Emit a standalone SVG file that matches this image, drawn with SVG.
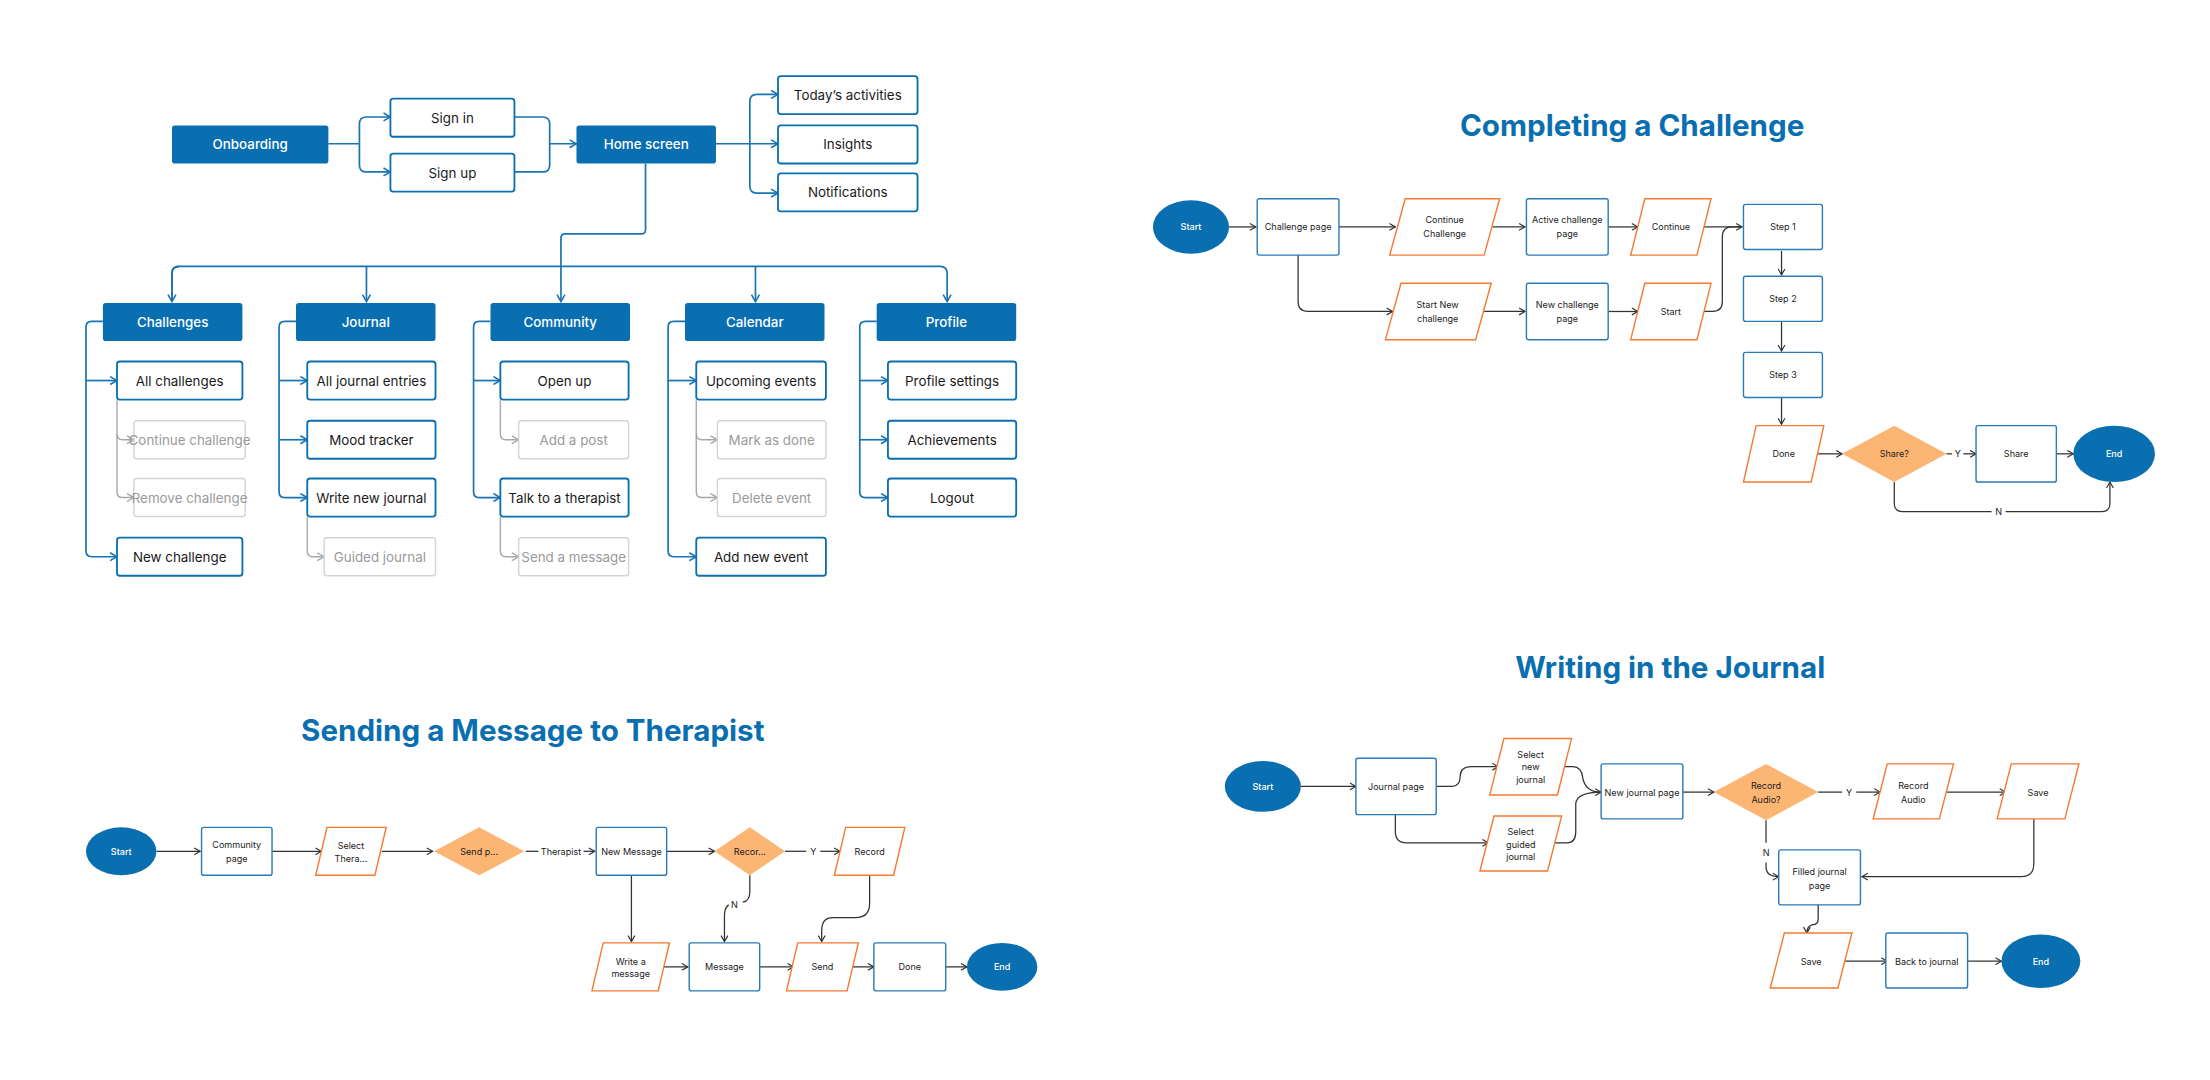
<svg xmlns="http://www.w3.org/2000/svg" width="2210" height="1080" viewBox="0 0 2210 1080">
<defs>
<style>
.t{font-family:Inter,"Noto Sans",sans-serif;fill:#1a1a1a;text-anchor:middle;dominant-baseline:central}
.tt{font-size:9.5px}
.tw{fill:#fff;font-weight:500}
.tg{fill:#9a9a9a}
.ft{font-size:6.4px}
.title{font-family:Inter,"Noto Sans",sans-serif;font-weight:700;font-size:21px;fill:#0a6fb0;text-anchor:middle;dominant-baseline:central}
.cat{fill:#0a6fb0}
.box{fill:#fff;stroke:#0a6fb0;stroke-width:1.3}
.gbox{fill:#fff;stroke:#d4d4d4;stroke-width:1}
.fbox{fill:#fff;stroke:#2a7ab8;stroke-width:1}
.par{fill:#fff;stroke:#f47a30;stroke-width:1}
.dia{fill:#fdb574}
.ell{fill:#0a6fb0}
.lb{fill:none;stroke:#1a73b3;stroke-width:1.2}
.lg{fill:none;stroke:#a8a8a8;stroke-width:1}
.lk{fill:none;stroke:#333;stroke-width:0.9}
</style>
<marker id="ab" viewBox="0 0 10 10" refX="9" refY="5" markerWidth="7" markerHeight="7" markerUnits="userSpaceOnUse" orient="auto"><path d="M2,1 L9,5 L2,9" fill="none" stroke="#1a73b3" stroke-width="1.6"/></marker>
<marker id="ag" viewBox="0 0 10 10" refX="9" refY="5" markerWidth="7" markerHeight="7" markerUnits="userSpaceOnUse" orient="auto"><path d="M2,1 L9,5 L2,9" fill="none" stroke="#a8a8a8" stroke-width="1.4"/></marker>
<marker id="ak" viewBox="0 0 10 10" refX="9" refY="5" markerWidth="6" markerHeight="6" markerUnits="userSpaceOnUse" orient="auto"><path d="M2,1 L9,5 L2,9" fill="none" stroke="#333" stroke-width="1.4"/></marker>
</defs>
<rect width="2210" height="1080" fill="#fff"/>
<g transform="scale(1.40944)">
<g id="connectors">
<!-- tree -->
<path class="lb" d="M233,102 H255 M255,102 V88 Q255,83 260,83 H277" marker-end="url(#ab)"/>
<path class="lb" d="M255,102 V117 Q255,122 260,122 H277" marker-end="url(#ab)"/>
<path class="lb" d="M365,83 H385 Q390,83 390,88 V102 H409" marker-end="url(#ab)"/>
<path class="lb" d="M365,122 H385 Q390,122 390,117 V102"/>
<path class="lb" d="M508,102 H552" marker-end="url(#ab)"/>
<path class="lb" d="M532,102 V72 Q532,67 537,67 H552" marker-end="url(#ab)"/>
<path class="lb" d="M532,102 V132 Q532,137 537,137 H552" marker-end="url(#ab)"/>
<path class="lb" d="M458,116 V163 Q458,166 455,166 H401 Q398,166 398,169 V189"/>
<path class="lb" d="M122,214 V194 Q122,189 127,189 H667 Q672,189 672,194 V214" marker-end="url(#ab)"/>
<path class="lb" d="M127,189 Q122,189 122,194 V214" marker-end="url(#ab)"/>
<path class="lb" d="M260,189 V214" marker-end="url(#ab)"/>
<path class="lb" d="M398,189 V214" marker-end="url(#ab)"/>
<path class="lb" d="M536,189 V214" marker-end="url(#ab)"/>
<!-- Challenges -->
<path class="lb" d="M73,228 H65 Q61,228 61,232 V391 Q61,395 65,395 H83" marker-end="url(#ab)"/>
<path class="lb" d="M61,270 H83" marker-end="url(#ab)"/>
<path class="lg" d="M83,284 V308 Q83,312 87,312 H95" marker-end="url(#ag)"/>
<path class="lg" d="M83,308 V349 Q83,353 87,353 H95" marker-end="url(#ag)"/>
<!-- Journal -->
<path class="lb" d="M210,228 H202 Q198,228 198,232 V349 Q198,353 202,353 H218" marker-end="url(#ab)"/>
<path class="lb" d="M198,270 H218" marker-end="url(#ab)"/>
<path class="lb" d="M198,312 H218" marker-end="url(#ab)"/>
<path class="lg" d="M218,367 V391 Q218,395 222,395 H230" marker-end="url(#ag)"/>
<!-- Community -->
<path class="lb" d="M348,228 H340 Q336,228 336,232 V349 Q336,353 340,353 H355" marker-end="url(#ab)"/>
<path class="lb" d="M336,270 H355" marker-end="url(#ab)"/>
<path class="lg" d="M355,284 V308 Q355,312 359,312 H368" marker-end="url(#ag)"/>
<path class="lg" d="M355,367 V391 Q355,395 359,395 H368" marker-end="url(#ag)"/>
<!-- Calendar -->
<path class="lb" d="M486,228 H478 Q474,228 474,232 V391 Q474,395 478,395 H494" marker-end="url(#ab)"/>
<path class="lb" d="M474,270 H494" marker-end="url(#ab)"/>
<path class="lg" d="M494,284 V308 Q494,312 498,312 H509" marker-end="url(#ag)"/>
<path class="lg" d="M494,308 V349 Q494,353 498,353 H509" marker-end="url(#ag)"/>
<!-- Profile -->
<path class="lb" d="M622,228 H614 Q610,228 610,232 V349 Q610,353 614,353 H630" marker-end="url(#ab)"/>
<path class="lb" d="M610,270 H630" marker-end="url(#ab)"/>
<path class="lb" d="M610,312 H630" marker-end="url(#ab)"/>
<!-- challenge flow -->
<path class="lk" d="M872,161 H891" marker-end="url(#ak)"/>
<path class="lk" d="M950,161 H990" marker-end="url(#ak)"/>
<path class="lk" d="M1059,161 H1082" marker-end="url(#ak)"/>
<path class="lk" d="M1141,161 H1162" marker-end="url(#ak)"/>
<path class="lk" d="M1209,161 H1236" marker-end="url(#ak)"/>
<path class="lk" d="M921,181 V214 Q921,221 928,221 H988" marker-end="url(#ak)"/>
<path class="lk" d="M1053,221 H1082" marker-end="url(#ak)"/>
<path class="lk" d="M1141,221 H1162" marker-end="url(#ak)"/>
<path class="lk" d="M1209,221 H1215 Q1222,221 1222,214 V168 Q1222,161 1229,161 H1236"/>
<path class="lk" d="M1264,178 V195" marker-end="url(#ak)"/>
<path class="lk" d="M1264,228 V249" marker-end="url(#ak)"/>
<path class="lk" d="M1264,282 V301" marker-end="url(#ak)"/>
<path class="lk" d="M1289,322 H1307" marker-end="url(#ak)"/>
<path class="lk" d="M1381,322 H1385"/>
<path class="lk" d="M1393,322 H1402" marker-end="url(#ak)"/>
<path class="lk" d="M1459,322 H1471" marker-end="url(#ak)"/>
<path class="lk" d="M1344,342 V357 Q1344,363 1350,363 H1413"/>
<path class="lk" d="M1423,363 H1491 Q1497,363 1497,357 V342" marker-end="url(#ak)"/>
<!-- message flow -->
<path class="lk" d="M111,604 H142" marker-end="url(#ak)"/>
<path class="lk" d="M193,604 H228" marker-end="url(#ak)"/>
<path class="lk" d="M271,604 H307" marker-end="url(#ak)"/>
<path class="lk" d="M373,604 H382"/>
<path class="lk" d="M414,604 H422" marker-end="url(#ak)"/>
<path class="lk" d="M473,604 H507" marker-end="url(#ak)"/>
<path class="lk" d="M557,604 H572"/>
<path class="lk" d="M582,604 H596" marker-end="url(#ak)"/>
<path class="lk" d="M448,621 V668" marker-end="url(#ak)"/>
<path class="lk" d="M532,621 V633 Q532,639 527,640"/>
<path class="lk" d="M517,642 Q514,644 514,650 V668" marker-end="url(#ak)"/>
<path class="lk" d="M617,621 V641 Q617,651 607,651 H591 Q583,651 583,660 V668" marker-end="url(#ak)"/>
<path class="lk" d="M470,686 H488" marker-end="url(#ak)"/>
<path class="lk" d="M539,686 H563" marker-end="url(#ak)"/>
<path class="lk" d="M605,686 H620" marker-end="url(#ak)"/>
<path class="lk" d="M671,686 H686" marker-end="url(#ak)"/>
<!-- journal flow -->
<path class="lk" d="M923,558 H962" marker-end="url(#ak)"/>
<path class="lk" d="M1019,558 H1030 Q1036,558 1036,551 Q1036,544 1044,544 H1063" marker-end="url(#ak)"/>
<path class="lk" d="M990,578 V590 Q990,598 998,598 H1056" marker-end="url(#ak)"/>
<path class="lk" d="M1110,544 H1116 Q1122,544 1123,552 Q1125,562 1136,562" marker-end="url(#ak)"/>
<path class="lk" d="M1103,598 H1112 Q1118,598 1118,590 V570 Q1119,562 1136,562"/>
<path class="lk" d="M1194,562 H1216" marker-end="url(#ak)"/>
<path class="lk" d="M1290,562 H1307"/>
<path class="lk" d="M1317,562 H1334" marker-end="url(#ak)"/>
<path class="lk" d="M1381,562 H1423" marker-end="url(#ak)"/>
<path class="lk" d="M1443,581 V613 Q1443,622 1434,622 H1321" marker-end="url(#ak)"/>
<path class="lk" d="M1253,582 V598"/>
<path class="lk" d="M1253,612 V615 Q1253,622 1262,622" marker-end="url(#ak)"/>
<path class="lk" d="M1290,642 V652 Q1290,656 1286,656 Q1282,657 1282,662" marker-end="url(#ak)"/>
<path class="lk" d="M1309,682 H1339" marker-end="url(#ak)"/>
<path class="lk" d="M1396,682 H1420" marker-end="url(#ak)"/>
</g>
<g id="labels">
<text class="t ft" x="1389" y="322">Y</text>
<text class="t ft" x="1418" y="363">N</text>
<text class="t ft" x="398" y="604">Therapist</text>
<text class="t ft" x="577" y="604">Y</text>
<text class="t ft" x="521" y="642">N</text>
<text class="t ft" x="1312" y="562">Y</text>
<text class="t ft" x="1253" y="605">N</text>
</g>
<!-- tree nodes -->
<g id="onboarding"><rect class="cat" x="122" y="89" width="111" height="27" rx="2"/><text class="t tt tw" x="177.5" y="102.5">Onboarding</text></g>
<g id="signin"><rect class="box" x="277" y="70" width="88" height="27" rx="2"/><text class="t tt" x="321" y="83.5">Sign in</text></g>
<g id="signup"><rect class="box" x="277" y="109" width="88" height="27" rx="2"/><text class="t tt" x="321" y="122.5">Sign up</text></g>
<g id="home"><rect class="cat" x="409" y="89" width="99" height="27" rx="2"/><text class="t tt tw" x="458.5" y="102.5">Home screen</text></g>
<g id="today"><rect class="box" x="552" y="54" width="99" height="27" rx="2"/><text class="t tt" x="601.5" y="67.5">Today’s activities</text></g>
<g id="insights"><rect class="box" x="552" y="89" width="99" height="27" rx="2"/><text class="t tt" x="601.5" y="102.5">Insights</text></g>
<g id="notifications"><rect class="box" x="552" y="123" width="99" height="27" rx="2"/><text class="t tt" x="601.5" y="136.5">Notifications</text></g>
<g id="challenges"><rect class="cat" x="73" y="215" width="99" height="27" rx="2"/><text class="t tt tw" x="122.5" y="228.5">Challenges</text></g>
<g id="journal"><rect class="cat" x="210" y="215" width="99" height="27" rx="2"/><text class="t tt tw" x="259.5" y="228.5">Journal</text></g>
<g id="community"><rect class="cat" x="348" y="215" width="99" height="27" rx="2"/><text class="t tt tw" x="397.5" y="228.5">Community</text></g>
<g id="calendar"><rect class="cat" x="486" y="215" width="99" height="27" rx="2"/><text class="t tt tw" x="535.5" y="228.5">Calendar</text></g>
<g id="profile"><rect class="cat" x="622" y="215" width="99" height="27" rx="2"/><text class="t tt tw" x="671.5" y="228.5">Profile</text></g>
<g id="allch"><rect class="box" x="83" y="256.5" width="89" height="27" rx="2"/><text class="t tt" x="127.5" y="270">All challenges</text></g>
<g id="contch"><rect class="gbox" x="95" y="298.5" width="79" height="27" rx="2"/><text class="t tt tg" x="134.5" y="312">Continue challenge</text></g>
<g id="remch"><rect class="gbox" x="95" y="339.5" width="79" height="27" rx="2"/><text class="t tt tg" x="134.5" y="353">Remove challenge</text></g>
<g id="newch"><rect class="box" x="83" y="381.5" width="89" height="27" rx="2"/><text class="t tt" x="127.5" y="395">New challenge</text></g>
<g id="alljr"><rect class="box" x="218" y="256.5" width="91" height="27" rx="2"/><text class="t tt" x="263.5" y="270">All journal entries</text></g>
<g id="mood"><rect class="box" x="218" y="298.5" width="91" height="27" rx="2"/><text class="t tt" x="263.5" y="312">Mood tracker</text></g>
<g id="writej"><rect class="box" x="218" y="339.5" width="91" height="27" rx="2"/><text class="t tt" x="263.5" y="353">Write new journal</text></g>
<g id="guided"><rect class="gbox" x="230" y="381.5" width="79" height="27" rx="2"/><text class="t tt tg" x="269.5" y="395">Guided journal</text></g>
<g id="openup"><rect class="box" x="355" y="256.5" width="91" height="27" rx="2"/><text class="t tt" x="400.5" y="270">Open up</text></g>
<g id="addpost"><rect class="gbox" x="368" y="298.5" width="78" height="27" rx="2"/><text class="t tt tg" x="407" y="312">Add a post</text></g>
<g id="talk"><rect class="box" x="355" y="339.5" width="91" height="27" rx="2"/><text class="t tt" x="400.5" y="353">Talk to a therapist</text></g>
<g id="sendmsg"><rect class="gbox" x="368" y="381.5" width="78" height="27" rx="2"/><text class="t tt tg" x="407" y="395">Send a message</text></g>
<g id="upcoming"><rect class="box" x="494" y="256.5" width="92" height="27" rx="2"/><text class="t tt" x="540" y="270">Upcoming events</text></g>
<g id="markdone"><rect class="gbox" x="509" y="298.5" width="77" height="27" rx="2"/><text class="t tt tg" x="547.5" y="312">Mark as done</text></g>
<g id="delevent"><rect class="gbox" x="509" y="339.5" width="77" height="27" rx="2"/><text class="t tt tg" x="547.5" y="353">Delete event</text></g>
<g id="addevent"><rect class="box" x="494" y="381.5" width="92" height="27" rx="2"/><text class="t tt" x="540" y="395">Add new event</text></g>
<g id="profset"><rect class="box" x="630" y="256.5" width="91" height="27" rx="2"/><text class="t tt" x="675.5" y="270">Profile settings</text></g>
<g id="achieve"><rect class="box" x="630" y="298.5" width="91" height="27" rx="2"/><text class="t tt" x="675.5" y="312">Achievements</text></g>
<g id="logout"><rect class="box" x="630" y="339.5" width="91" height="27" rx="2"/><text class="t tt" x="675.5" y="353">Logout</text></g>
<!-- titles -->
<text class="title" x="1158" y="89">Completing a Challenge</text>
<text class="title" x="378" y="518">Sending a Message to Therapist</text>
<text class="title" x="1185" y="473">Writing in the Journal</text>
<!-- challenge flow nodes -->
<g id="c-start"><ellipse class="ell" cx="845" cy="161" rx="27" ry="19"/><text class="t ft tw" x="845" y="161">Start</text></g>
<g id="c-page"><rect class="fbox" x="892" y="141" width="58" height="40" rx="1.5"/><text class="t ft" x="921" y="161">Challenge page</text></g>
<g id="c-cont"><path class="par" d="M997,141 H1064 L1053,181 H986 Z"/><text class="t ft" x="1025" y="156">Continue</text><text class="t ft" x="1025" y="166">Challenge</text></g>
<g id="c-active"><rect class="fbox" x="1083" y="141" width="58" height="40" rx="1.5"/><text class="t ft" x="1112" y="156">Active challenge</text><text class="t ft" x="1112" y="166">page</text></g>
<g id="c-continue"><path class="par" d="M1167,141 H1214 L1204,181 H1157 Z"/><text class="t ft" x="1185.5" y="161">Continue</text></g>
<g id="c-startnew"><path class="par" d="M994,201 H1058 L1047,241 H983 Z"/><text class="t ft" x="1020" y="216">Start New</text><text class="t ft" x="1020" y="226">challenge</text></g>
<g id="c-newpage"><rect class="fbox" x="1083" y="201" width="58" height="40" rx="1.5"/><text class="t ft" x="1112" y="216">New challenge</text><text class="t ft" x="1112" y="226">page</text></g>
<g id="c-start2"><path class="par" d="M1167,201 H1214 L1204,241 H1157 Z"/><text class="t ft" x="1185.5" y="221">Start</text></g>
<g id="c-step1"><rect class="fbox" x="1237" y="145" width="56" height="32" rx="1.5"/><text class="t ft" x="1265" y="161">Step 1</text></g>
<g id="c-step2"><rect class="fbox" x="1237" y="196" width="56" height="32" rx="1.5"/><text class="t ft" x="1265" y="212">Step 2</text></g>
<g id="c-step3"><rect class="fbox" x="1237" y="250" width="56" height="32" rx="1.5"/><text class="t ft" x="1265" y="266">Step 3</text></g>
<g id="c-done"><path class="par" d="M1246,302 H1294 L1285,342 H1237 Z"/><text class="t ft" x="1265.5" y="322">Done</text></g>
<g id="c-share-q"><path class="dia" d="M1344,302 L1381,322 L1344,342 L1307,322 Z"/><text class="t ft" x="1344" y="322">Share?</text></g>
<g id="c-share"><rect class="fbox" x="1402" y="302" width="57" height="40" rx="1.5"/><text class="t ft" x="1430.5" y="322">Share</text></g>
<g id="c-end"><ellipse class="ell" cx="1500" cy="322" rx="29" ry="20"/><text class="t ft tw" x="1500" y="322">End</text></g>
<!-- message flow nodes -->
<g id="m-start"><ellipse class="ell" cx="86" cy="604" rx="25" ry="17"/><text class="t ft tw" x="86" y="604">Start</text></g>
<g id="m-community"><rect class="fbox" x="143" y="587" width="50" height="34" rx="1.5"/><text class="t ft" x="168" y="599">Community</text><text class="t ft" x="168" y="609">page</text></g>
<g id="m-select"><path class="par" d="M232,587 H274 L266,621 H224 Z"/><text class="t ft" x="249" y="600">Select</text><text class="t ft" x="249" y="609">Thera...</text></g>
<g id="m-sendp"><path class="dia" d="M340,587 L372,604 L340,621 L308,604 Z"/><text class="t ft" x="340" y="604">Send p...</text></g>
<g id="m-newmsg"><rect class="fbox" x="423" y="587" width="50" height="34" rx="1.5"/><text class="t ft" x="448" y="604">New Message</text></g>
<g id="m-recq"><path class="dia" d="M532,587 L557,604 L532,621 L507,604 Z"/><text class="t ft" x="532" y="604">Recor...</text></g>
<g id="m-record"><path class="par" d="M600,587 H642 L634,621 H592 Z"/><text class="t ft" x="617" y="604">Record</text></g>
<g id="m-write"><path class="par" d="M428,669 H475 L467,703 H420 Z"/><text class="t ft" x="447.5" y="682">Write a</text><text class="t ft" x="447.5" y="691">message</text></g>
<g id="m-message"><rect class="fbox" x="489" y="669" width="50" height="34" rx="1.5"/><text class="t ft" x="514" y="686">Message</text></g>
<g id="m-send"><path class="par" d="M566,669 H609 L601,703 H558 Z"/><text class="t ft" x="583.5" y="686">Send</text></g>
<g id="m-done"><rect class="fbox" x="620" y="669" width="51" height="34" rx="1.5"/><text class="t ft" x="645.5" y="686">Done</text></g>
<g id="m-end"><ellipse class="ell" cx="711" cy="686" rx="25" ry="17"/><text class="t ft tw" x="711" y="686">End</text></g>
<!-- journal flow nodes -->
<g id="j-start"><ellipse class="ell" cx="896" cy="558" rx="27" ry="18"/><text class="t ft tw" x="896" y="558">Start</text></g>
<g id="j-page"><rect class="fbox" x="962" y="538" width="57" height="40" rx="1.5"/><text class="t ft" x="990.5" y="558">Journal page</text></g>
<g id="j-selnew"><path class="par" d="M1067,524 H1115 L1105,564 H1057 Z"/><text class="t ft" x="1086" y="535">Select</text><text class="t ft" x="1086" y="544">new</text><text class="t ft" x="1086" y="553">journal</text></g>
<g id="j-selguided"><path class="par" d="M1060,579 H1108 L1098,618 H1050 Z"/><text class="t ft" x="1079" y="590">Select</text><text class="t ft" x="1079" y="599">guided</text><text class="t ft" x="1079" y="608">journal</text></g>
<g id="j-newpage"><rect class="fbox" x="1136" y="542" width="58" height="39" rx="1.5"/><text class="t ft" x="1165" y="562">New journal page</text></g>
<g id="j-recq"><path class="dia" d="M1253,542 L1290,562 L1253,582 L1216,562 Z"/><text class="t ft" x="1253" y="557">Record</text><text class="t ft" x="1253" y="567">Audio?</text></g>
<g id="j-recaudio"><path class="par" d="M1339,542 H1386 L1376,581 H1329 Z"/><text class="t ft" x="1357.5" y="557">Record</text><text class="t ft" x="1357.5" y="567">Audio</text></g>
<g id="j-save1"><path class="par" d="M1427,542 H1475 L1465,581 H1417 Z"/><text class="t ft" x="1446" y="562">Save</text></g>
<g id="j-filled"><rect class="fbox" x="1262" y="603" width="58" height="39" rx="1.5"/><text class="t ft" x="1291" y="618">Filled journal</text><text class="t ft" x="1291" y="628">page</text></g>
<g id="j-save2"><path class="par" d="M1266,662 H1314 L1304,701 H1256 Z"/><text class="t ft" x="1285" y="682">Save</text></g>
<g id="j-back"><rect class="fbox" x="1338" y="662" width="58" height="39" rx="1.5"/><text class="t ft" x="1367" y="682">Back to journal</text></g>
<g id="j-end"><ellipse class="ell" cx="1448" cy="682" rx="28" ry="19"/><text class="t ft tw" x="1448" y="682">End</text></g>
</g>
</svg>
